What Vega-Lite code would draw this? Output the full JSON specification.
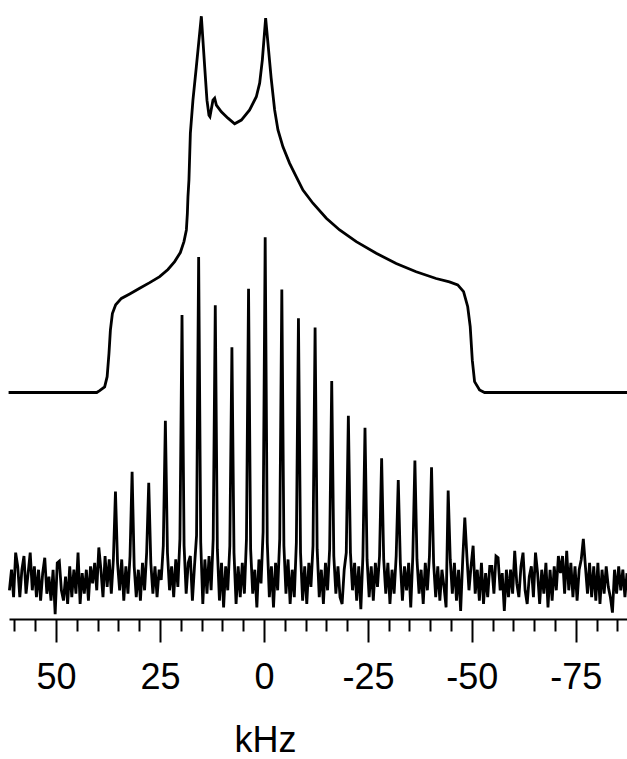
{
  "$schema": "https://vega.github.io/schema/vega-lite/v6.json",
  "width": 618,
  "height": 619,
  "autosize": {"type": "none"},
  "padding": {"left": 9, "top": 0, "right": 0, "bottom": 140},
  "background": "white",
  "config": {"view": {"stroke": null}},
  "datasets": {
    "static": [
      {"k":61.4,"v":0},{"k":40.2,"v":0},{"k":39.5,"v":0.5},{"k":38.3,"v":1.5},{"k":37.7,"v":4.2},{"k":37.26,"v":10.4},{"k":36.92,"v":16.6},{"k":36.44,"v":21.0},{"k":35.65,"v":23.3},{"k":34.28,"v":25.0},{"k":32.28,"v":26.2},{"k":29.88,"v":27.7},{"k":27.47,"v":29.2},{"k":25.07,"v":30.8},{"k":23.08,"v":32.7},{"k":21.47,"v":34.8},{"k":20.1,"v":37.2},{"k":19.23,"v":40.1},{"k":18.65,"v":43.2},{"k":18.41,"v":47.6},{"k":18.27,"v":52.0},{"k":18.03,"v":56.5},{"k":17.69,"v":68.9},{"k":17.07,"v":77.7},{"k":16.25,"v":86.6},{"k":15.05,"v":100},{"k":14.25,"v":86.6},{"k":13.7,"v":77.7},{"k":13.22,"v":73.7},{"k":12.98,"v":73.3},{"k":12.26,"v":77.7},{"k":11.85,"v":78.2},{"k":11.44,"v":76.4},{"k":10.24,"v":74.6},{"k":8.65,"v":72.9},{"k":7.04,"v":71.4},{"k":5.43,"v":72.4},{"k":3.44,"v":75.1},{"k":1.83,"v":78.6},{"k":1.03,"v":82.2},{"k":0.38,"v":88.4},{"k":-0.41,"v":99.5},{"k":-1.73,"v":83.6},{"k":-2.57,"v":75.1},{"k":-3.37,"v":69.8},{"k":-4.57,"v":65.3},{"k":-6.18,"v":60.9},{"k":-7.79,"v":57.3},{"k":-9.38,"v":53.8},{"k":-11.78,"v":50.3},{"k":-15.0,"v":46.3},{"k":-18.2,"v":43.2},{"k":-22.2,"v":40.1},{"k":-27.0,"v":37.0},{"k":-31.8,"v":34.3},{"k":-36.6,"v":32.1},{"k":-41.4,"v":30.3},{"k":-44.6,"v":29.4},{"k":-46.6,"v":28.6},{"k":-48.0,"v":26.8},{"k":-49.0,"v":22.8},{"k":-49.6,"v":17.5},{"k":-50.1,"v":8.6},{"k":-50.65,"v":2.9},{"k":-51.85,"v":0.66},{"k":-53.05,"v":0},{"k":-87.3,"v":0}
    ],
    "mas": [
      {"k":61.2,"v":-3},{"k":60.7,"v":3},{"k":60.2,"v":-5},{"k":59.7,"v":8},{"k":59.2,"v":4},{"k":58.7,"v":-5},{"k":58.2,"v":3},{"k":57.7,"v":7},{"k":57.2,"v":-4},{"k":56.7,"v":2},
      {"k":56.2,"v":8},{"k":55.7,"v":-3},{"k":55.2,"v":4},{"k":54.7,"v":-5},{"k":54.2,"v":3},{"k":53.7,"v":-6},{"k":53.2,"v":2},{"k":52.7,"v":6.5},{"k":52.2,"v":-4},{"k":51.7,"v":1},
      {"k":51.2,"v":-6},{"k":50.7,"v":3},{"k":50.2,"v":-10},{"k":49.7,"v":5},{"k":49.2,"v":5.5},{"k":48.7,"v":-3},{"k":48.2,"v":-6},{"k":47.7,"v":1},{"k":47.2,"v":-7},{"k":46.7,"v":4},
      {"k":46.2,"v":-5},{"k":45.7,"v":3},{"k":45.2,"v":-4},{"k":44.7,"v":8},{"k":44.2,"v":-7},{"k":43.7,"v":2},{"k":43.2,"v":-4},{"k":42.7,"v":3},{"k":42.2,"v":-6},{"k":41.7,"v":4},
      {"k":41.2,"v":-1},{"k":40.7,"v":5},{"k":40.2,"v":-3},{"k":39.7,"v":9.5},{"k":39.2,"v":3},{"k":38.7,"v":-5},{"k":38.2,"v":7},{"k":37.7,"v":-2},{"k":37.2,"v":6},{"k":36.7,"v":-4},
      {"k":36.2,"v":6},{"k":35.7,"v":25.8},{"k":35.2,"v":5},{"k":34.7,"v":-3},{"k":34.2,"v":6},{"k":33.7,"v":-6},{"k":33.2,"v":4},{"k":32.7,"v":-4},{"k":32.2,"v":7},{"k":31.7,"v":31.6},
      {"k":31.2,"v":4},{"k":30.7,"v":-5},{"k":30.2,"v":3},{"k":29.7,"v":-6},{"k":29.2,"v":5},{"k":28.7,"v":-3},{"k":28.2,"v":8},{"k":27.7,"v":28.4},{"k":27.2,"v":5},{"k":26.7,"v":-4},
      {"k":26.2,"v":4},{"k":25.7,"v":-5},{"k":25.2,"v":3},{"k":24.7,"v":0},{"k":24.2,"v":10},{"k":23.7,"v":46.5},{"k":23.2,"v":8},{"k":22.7,"v":-3},{"k":22.2,"v":4},{"k":21.7,"v":-5},
      {"k":21.2,"v":6},{"k":20.7,"v":-2},{"k":20.2,"v":12},{"k":19.7,"v":77.3},{"k":19.2,"v":10},{"k":18.7,"v":-4},{"k":18.2,"v":5},{"k":17.7,"v":7},{"k":17.2,"v":-6},{"k":16.7,"v":4},
      {"k":16.2,"v":13},{"k":15.7,"v":94.3},{"k":15.2,"v":11},{"k":14.7,"v":-7},{"k":14.2,"v":6},{"k":13.7,"v":-4},{"k":13.2,"v":7},{"k":12.7,"v":-3},{"k":12.2,"v":12},{"k":11.7,"v":80.2},
      {"k":11.2,"v":9},{"k":10.7,"v":-6},{"k":10.2,"v":5},{"k":9.7,"v":-8},{"k":9.2,"v":4},{"k":8.7,"v":-3},{"k":8.2,"v":10},{"k":7.7,"v":67.9},{"k":7.2,"v":8},{"k":6.7,"v":-7},
      {"k":6.2,"v":4},{"k":5.7,"v":-5},{"k":5.2,"v":5},{"k":4.7,"v":-4},{"k":4.2,"v":12},{"k":3.7,"v":85.0},{"k":3.2,"v":9},{"k":2.7,"v":-4},{"k":2.2,"v":3},{"k":1.7,"v":-8},
      {"k":1.2,"v":6},{"k":0.7,"v":-1},{"k":0.2,"v":14},{"k":-0.3,"v":100},{"k":-0.8,"v":11},{"k":-1.3,"v":-5},{"k":-1.8,"v":4},{"k":-2.3,"v":-8},{"k":-2.8,"v":5},{"k":-3.3,"v":-3},
      {"k":-3.8,"v":12},{"k":-4.3,"v":84.8},{"k":-4.8,"v":10},{"k":-5.3,"v":-4},{"k":-5.8,"v":6},{"k":-6.3,"v":-7},{"k":-6.8,"v":3},{"k":-7.3,"v":-5},{"k":-7.8,"v":11},{"k":-8.3,"v":76.4},
      {"k":-8.8,"v":8},{"k":-9.3,"v":-6},{"k":-9.8,"v":4},{"k":-10.3,"v":-7},{"k":-10.8,"v":5},{"k":-11.3,"v":-2},{"k":-11.8,"v":10},{"k":-12.3,"v":73.7},{"k":-12.8,"v":9},{"k":-13.3,"v":-5},
      {"k":-13.8,"v":3},{"k":-14.3,"v":-7},{"k":-14.8,"v":5},{"k":-15.3,"v":-3},{"k":-15.8,"v":9},{"k":-16.3,"v":58.1},{"k":-16.8,"v":7},{"k":-17.3,"v":-4},{"k":-17.8,"v":4},{"k":-18.3,"v":-5},
      {"k":-18.8,"v":-7},{"k":-19.3,"v":3},{"k":-19.8,"v":8},{"k":-20.3,"v":47.9},{"k":-20.8,"v":8},{"k":-21.3,"v":-3},{"k":-21.8,"v":5},{"k":-22.3,"v":-6},{"k":-22.8,"v":4},{"k":-23.3,"v":-8.5},
      {"k":-23.8,"v":7},{"k":-24.3,"v":44.4},{"k":-24.8,"v":6},{"k":-25.3,"v":-5},{"k":-25.8,"v":4},{"k":-26.3,"v":-6},{"k":-26.8,"v":5},{"k":-27.3,"v":-2},{"k":-27.8,"v":7},{"k":-28.3,"v":35.5},
      {"k":-28.8,"v":6},{"k":-29.3,"v":-4},{"k":-29.8,"v":5},{"k":-30.3,"v":-7},{"k":-30.8,"v":3},{"k":-31.3,"v":-4},{"k":-31.8,"v":7},{"k":-32.3,"v":29.2},{"k":-32.8,"v":5},{"k":-33.3,"v":-6},
      {"k":-33.8,"v":4},{"k":-34.3,"v":-3},{"k":-34.8,"v":5},{"k":-35.3,"v":-8},{"k":-35.8,"v":7},{"k":-36.3,"v":34.9},{"k":-36.8,"v":6},{"k":-37.3,"v":-4},{"k":-37.8,"v":3},{"k":-38.3,"v":-7},
      {"k":-38.8,"v":5},{"k":-39.3,"v":-3},{"k":-39.8,"v":7},{"k":-40.3,"v":32.9},{"k":-40.8,"v":5},{"k":-41.3,"v":-5},{"k":-41.8,"v":4},{"k":-42.3,"v":-6},{"k":-42.8,"v":3},{"k":-43.3,"v":-2},
      {"k":-43.8,"v":-8},{"k":-44.3,"v":26.1},{"k":-44.8,"v":6},{"k":-45.3,"v":-4},{"k":-45.8,"v":5},{"k":-46.3,"v":-6},{"k":-46.8,"v":3},{"k":-47.3,"v":-9},{"k":-47.8,"v":6},{"k":-48.3,"v":18.2},
      {"k":-48.8,"v":7},{"k":-49.3,"v":-3},{"k":-49.8,"v":4},{"k":-50.3,"v":10},{"k":-50.8,"v":-4},{"k":-51.3,"v":3},{"k":-51.8,"v":-6},{"k":-52.3,"v":5},{"k":-52.8,"v":-7},{"k":-53.3,"v":2},
      {"k":-53.8,"v":-5},{"k":-54.3,"v":4},{"k":-54.8,"v":4},{"k":-55.3,"v":-4},{"k":-55.8,"v":7},{"k":-56.3,"v":6.5},{"k":-56.8,"v":-3},{"k":-57.3,"v":2},{"k":-57.8,"v":-9},{"k":-58.3,"v":3},
      {"k":-58.8,"v":-5},{"k":-59.3,"v":3},{"k":-59.8,"v":-4},{"k":-60.3,"v":8.5},{"k":-60.8,"v":-1},{"k":-61.3,"v":-5},{"k":-61.8,"v":4},{"k":-62.3,"v":8},{"k":-62.8,"v":-3},{"k":-63.3,"v":-7},
      {"k":-63.8,"v":1},{"k":-64.3,"v":4},{"k":-64.8,"v":-5},{"k":-65.3,"v":8},{"k":-65.8,"v":2},{"k":-66.3,"v":-7},{"k":-66.8,"v":3},{"k":-67.3,"v":-4},{"k":-67.8,"v":5},{"k":-68.3,"v":-8},
      {"k":-68.8,"v":3},{"k":-69.3,"v":-6},{"k":-69.8,"v":4},{"k":-70.3,"v":-3},{"k":-70.8,"v":7},{"k":-71.3,"v":2},{"k":-71.8,"v":7},{"k":-72.3,"v":-4},{"k":-72.8,"v":8.5},{"k":-73.3,"v":-3},
      {"k":-73.8,"v":5},{"k":-74.3,"v":-5},{"k":-74.8,"v":4},{"k":-75.3,"v":-6},{"k":-75.8,"v":3},{"k":-76.3,"v":6},{"k":-76.8,"v":12},{"k":-77.3,"v":4},{"k":-77.8,"v":-4},{"k":-78.3,"v":5},
      {"k":-78.8,"v":-5},{"k":-79.3,"v":4},{"k":-79.8,"v":-6},{"k":-80.3,"v":5},{"k":-80.8,"v":-7},{"k":-81.3,"v":3},{"k":-81.8,"v":-4},{"k":-82.3,"v":4},{"k":-82.8,"v":-2},{"k":-83.3,"v":-5},
      {"k":-83.8,"v":-9.5},{"k":-84.3,"v":3},{"k":-84.8,"v":-4},{"k":-85.3,"v":4},{"k":-85.8,"v":-3},{"k":-86.3,"v":3},{"k":-86.8,"v":-5},{"k":-87.3,"v":2}
    ]
  },
  "layer": [
    {
      "data": {"name": "static"},
      "mark": {"type": "line", "color": "black", "strokeWidth": 2.8},
      "encoding": {
        "x": {
          "field": "k",
          "type": "quantitative",
          "scale": {"domain": [-87.3, 61.3], "reverse": true, "zero": false, "nice": false},
          "axis": {
            "orient": "bottom",
            "values": [60,55,45,40,35,30,20,15,10,5,-5,-10,-15,-20,-30,-35,-40,-45,-55,-60,-65,-70,-80,-85],
            "grid": false,
            "domain": true,
            "domainColor": "black",
            "domainWidth": 2,
            "tickColor": "black",
            "tickWidth": 2,
            "tickSize": 12,
            "labels": false,
            "title": null
          }
        },
        "y": {"field": "v", "type": "quantitative", "scale": {"domain": [-60.19, 104.31], "zero": false, "nice": false}, "axis": null}
      }
    },
    {
      "data": {"name": "mas"},
      "mark": {"type": "line", "color": "black", "strokeWidth": 2.8},
      "encoding": {
        "x": {
          "field": "k",
          "type": "quantitative",
          "axis": {
            "orient": "bottom",
            "values": [50,25,0,-25,-50,-75],
            "grid": false,
            "domain": false,
            "tickColor": "black",
            "tickWidth": 2,
            "tickSize": 23,
            "labelExpr": "'' + datum.value",
            "labelFont": "Liberation Sans",
            "labelFontSize": 36,
            "labelColor": "black",
            "labelPadding": 18,
            "labelOverlap": false,
            "labelBound": false,
            "labelFlush": false,
            "title": "kHz",
            "titleFont": "Liberation Sans",
            "titleFontSize": 36,
            "titleFontWeight": "normal",
            "titleColor": "black",
            "titleX": 256,
            "titleY": 132,
            "titleAlign": "center",
            "titleBaseline": "alphabetic"
          }
        },
        "y": {"field": "v", "type": "quantitative", "scale": {"domain": [-11.38, 169.27], "zero": false, "nice": false}, "axis": null}
      }
    }
  ],
  "resolve": {"scale": {"y": "independent"}, "axis": {"x": "independent"}}
}
